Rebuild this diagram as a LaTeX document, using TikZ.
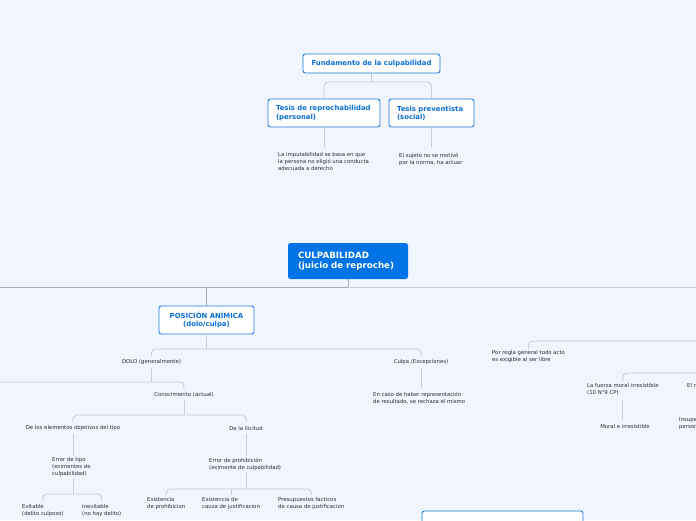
\documentclass[tikz,border=0pt]{standalone}
\usepackage{fontspec}
\setmainfont{DejaVu Sans}
\definecolor{bg}{HTML}{F1F5FE}
\definecolor{boxblue}{HTML}{1F7AE0}
\definecolor{txtblue}{HTML}{0B6FD6}
\definecolor{fillblue}{HTML}{0073E6}
\definecolor{lgray}{HTML}{C9CDD6}
\definecolor{dgray}{HTML}{A9A9AE}
\definecolor{dtext}{HTML}{2A2A2A}
\tikzset{
  box/.style={draw=boxblue, fill=white, rounded corners=2.5pt, line width=0.9pt,
    font=\bfseries\fontsize{6.9}{8.2}\selectfont, text=txtblue, align=left,
    inner xsep=8pt, inner ysep=0pt},
  mainbox/.style={fill=fillblue, rounded corners=2.5pt, text=white,
    font=\bfseries\fontsize{8.7}{10.5}\selectfont, align=left, inner xsep=10pt, inner ysep=0pt},
  lbl/.style={font=\fontsize{5.35}{7}\selectfont, text=dtext, align=left, inner sep=0pt},
  conn/.style={draw=lgray, line width=0.9pt, rounded corners=4pt},
  dconn/.style={draw=dgray, line width=0.9pt, rounded corners=4pt}
}
\begin{document}
\begin{tikzpicture}[x=1pt,y=-1pt]
\fill[bg] (0,0) rectangle (696,520);
\useasboundingbox (0,0) rectangle (696,520);
\clip (0,0) rectangle (696,520);

% top part
\node[box, minimum width=137pt, minimum height=19pt, align=center] (fund) at (371.5,63.5) {Fundamento de la culpabilidad};
\node[box, minimum width=112pt, minimum height=28pt, text width=96pt] (tr) at (324,113) {Tesis de reprochabilidad\\(personal)};
\node[box, minimum width=85pt, minimum height=28pt, text width=69pt] (tp) at (431.5,113) {Tesis preventista\\(social)};
\draw[conn] (fund.south) -- (fund.south |- 0,82);
\draw[conn] (tr.north) |- (fund.south |- 0,82) -| (tp.north);
\node[lbl, anchor=west] (t1) at (278,162) {La imputabilidad se basa en que\\la persona no eligió una conducta\\adecuada a derecho};
\node[lbl, anchor=west] (t2) at (399,159.5) {El sujeto no se motivó\\por la norma, ha actuar};
\draw[conn] (tr.south) -- (tr.south |- 0,147);
\draw[conn] (tp.south) -- (tp.south |- 0,147);

% main
\node[mainbox, minimum width=120pt, minimum height=36pt, text width=100pt] (cul) at (348,261) {CULPABILIDAD\\(juicio de reproche)};
\draw[dconn] (cul.south) -- (cul.south |- 0,287);
\draw[dconn] (0,287) -- (cul.south |- 0,287);
\draw[conn] (cul.south |- 0,287) -- (696,287);

\node[box, minimum width=95pt, minimum height=28pt, text width=79pt, align=center] (pos) at (206.5,320) {POSICIÓN ANÍMICA\\(dolo/culpa)};
\draw[dconn] (pos.north) -- (pos.north |- 0,287);

\node[lbl] (dolo) at (151.5,362) {DOLO (generalmente)};
\node[lbl] (culpa) at (421,362) {Culpa (Excepciones)};
\draw[conn] (pos.south) -- (pos.south |- 0,349);
\draw[conn] (dolo.north |- 0,356) |- (pos.south |- 0,349) -| (culpa.north |- 0,356);

\node[lbl] (conoc) at (184,395) {Conocimiento (actual)};
\draw[conn] (dolo.south |- 0,368) -- (dolo.south |- 0,382);
\draw[conn] (0,382) -| (conoc.north |- 0,389);

\node[lbl] (obj) at (73,428) {De los elementos objetivos del tipo};
\node[lbl] (ilic) at (246,428) {De la ilicitud};
\draw[conn] (conoc.south |- 0,400) -- (conoc.south |- 0,415);
\draw[conn] (obj.north |- 0,422) |- (conoc.south |- 0,415) -| (ilic.north |- 0,422);

\node[lbl, anchor=west] (etipo) at (52,467.5) {Error de tipo\\(eximentes de\\culpabilidad)};
\node[lbl, anchor=west] (eprohib) at (209,464.5) {Error de prohibición\\(eximente de culpabilidad)};
\draw[conn] (obj.south |- 0,434) -- (obj.south |- 0,456);
\draw[conn] (ilic.south |- 0,434) -- (ilic.south |- 0,456);

\node[lbl, anchor=west] (evit) at (22,510.5) {Evitable\\(delito culposo)};
\node[lbl, anchor=west] (inev) at (82,510.5) {Inevitable\\(no hay delito)};
\draw[conn] (obj.south |- 0,479) -- (obj.south |- 0,494);
\draw[conn] (evit.north |- 0,501) |- (obj.south |- 0,494) -| (inev.north |- 0,501);

\node[lbl, anchor=west] (ex1) at (147,503.5) {Existencia\\de prohibicion};
\node[lbl, anchor=west] (ex2) at (202,503.5) {Existencia de\\causa de justificacion};
\node[lbl, anchor=west] (pres) at (278,503.5) {Presupuestos facticos\\de causa de justificacion};
\draw[conn] (ilic.south |- 0,472) -- (ilic.south |- 0,489);
\draw[conn] (ex1.north |- 0,495) |- (ilic.south |- 0,489) -| (pres.north |- 0,495);
\draw[conn] (ex2.north |- 0,489) -- (ex2.north |- 0,495);

\node[lbl, anchor=west] (caso) at (373,398.5) {En caso de haber representación\\de resultado, se rechaza el mismo};
\draw[conn] (culpa.south |- 0,368) -- (culpa.south |- 0,388);

% right side
\node[lbl, anchor=west] (regla) at (492,356.5) {Por regla general todo acto\\es exigible al ser libre};
\draw[conn] (regla.north |- 0,349) |- (696,341);

\node[lbl, anchor=west] (fuerza) at (587,389.5) {La fuerza moral irresistible\\(10 N°9 CP)};
\draw[conn] (fuerza.north |- 0,381) |- (696,373);
\node[lbl] (moral) at (625,426) {Moral e irresistible};
\draw[conn] (fuerza.north |- 0,400) -- (fuerza.north |- 0,420);
\node[lbl, anchor=west] (miedo) at (687,386) {El miedo insuperable};
\node[lbl, anchor=west] (insup) at (679,423.5) {Insuperable para\\persona};

% bottom box (cut off)
\node[box, minimum width=161pt, minimum height=24pt] (bot) at (502.5,523) {};
\end{tikzpicture}
\end{document}
